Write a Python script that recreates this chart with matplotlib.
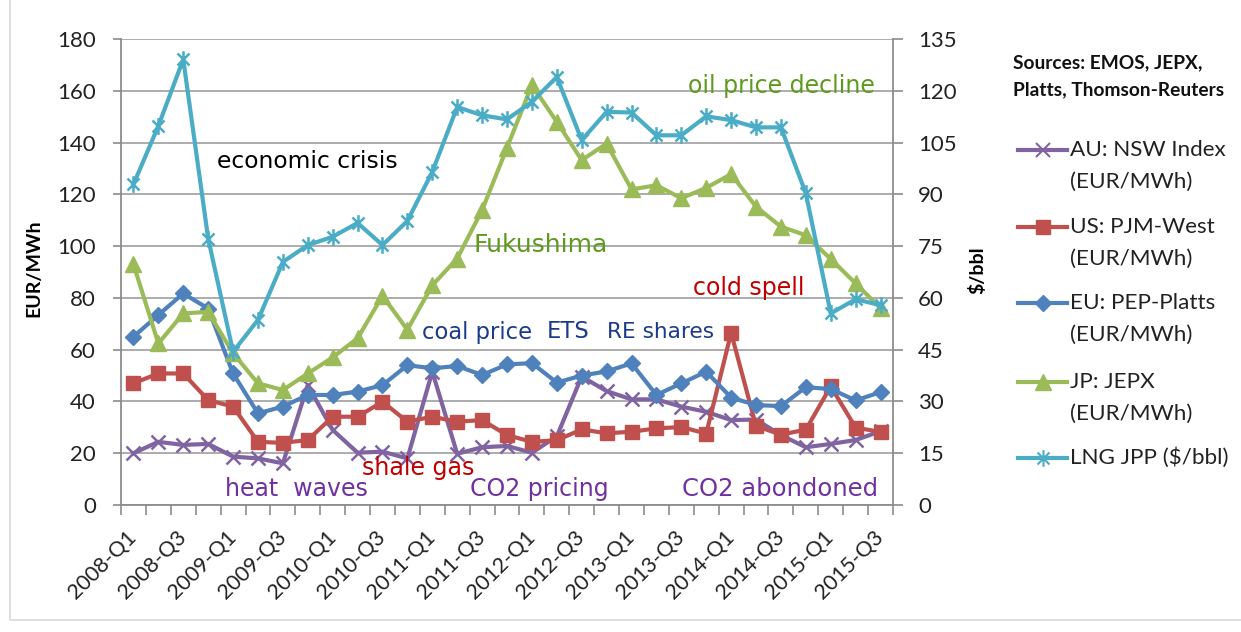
import numpy as np
import matplotlib
matplotlib.use("Agg")
import matplotlib.pyplot as plt
from matplotlib.path import Path
from matplotlib.lines import Line2D
from matplotlib.patches import Rectangle

# ---------------- data ----------------
quarters = ["2008-Q1", "2008-Q2", "2008-Q3", "2008-Q4",
            "2009-Q1", "2009-Q2", "2009-Q3", "2009-Q4",
            "2010-Q1", "2010-Q2", "2010-Q3", "2010-Q4",
            "2011-Q1", "2011-Q2", "2011-Q3", "2011-Q4",
            "2012-Q1", "2012-Q2", "2012-Q3", "2012-Q4",
            "2013-Q1", "2013-Q2", "2013-Q3", "2013-Q4",
            "2014-Q1", "2014-Q2", "2014-Q3", "2014-Q4",
            "2015-Q1", "2015-Q2", "2015-Q3"]

au_nsw = [20, 24.4, 23.2, 23.6, 18.7, 18, 16.1, 46.3, 29, 20.2, 20.6, 18,
          51.5, 19.8, 22.3, 22.8, 20.2, 26.5, 49.6, 44, 40.8, 40.8, 38, 36,
          32.8, 33, 27, 22.3, 23.6, 25.1, 28.5]
us_pjm = [47, 50.8, 50.8, 40.5, 38, 24.4, 24, 25.1, 34.1, 34.1, 39.9, 32.2,
          34.1, 32.2, 32.8, 27, 24.4, 25, 29.2, 27.7, 28.3, 29.6, 30.1, 27.6,
          66.5, 30.5, 27.2, 29.1, 45.8, 29.9, 28.2]
eu_pep = [65, 73.4, 81.7, 75.9, 50.8, 35.4, 38, 42.5, 42.5, 43.8, 46.3, 54,
          52.8, 53.7, 50.2, 54.3, 54.8, 47.3, 50, 51.6, 54.7, 42.5, 47, 51.5,
          41.5, 38.6, 38.2, 45.5, 44.8, 40.4, 43.6]
jp_jepx = [93, 62.4, 74, 74.6, 58.6, 47, 44.4, 50.8, 57, 64.4, 80.8, 67.7,
           84.9, 95.2, 113.9, 138, 162.2, 148, 133.2, 139.6, 121.9, 123.5, 118.5, 122.5,
           127.8, 115.2, 107.5, 104.2, 95, 85.6, 76]
lng_jpp = [92.9, 109.8, 129.1, 77.2, 44.4, 53.6, 70.4, 75.3, 77.7, 81.7, 75.3, 82.3,
           96.5, 115.3, 112.9, 111.7, 116.8, 124, 105.7, 113.9, 113.7, 107.1, 107.1, 112.6,
           111.5, 109.4, 109.4, 90.3, 55.5, 59.6, 57.9]

series_names = ["AU: NSW Index\n(EUR/MWh)", "US: PJM-West\n(EUR/MWh)",
                "EU: PEP-Platts\n(EUR/MWh)", "JP: JEPX\n(EUR/MWh)", "LNG JPP ($/bbl)"]

left_ticks = [0, 20, 40, 60, 80, 100, 120, 140, 160, 180]
right_ticks = [0, 15, 30, 45, 60, 75, 90, 105, 120, 135]

# ---------------- style ----------------
W, H = 1241, 632
C_AU, C_US, C_EU, C_JP, C_LNG = "#8064a2", "#c0504d", "#4f81bd", "#9bbb59", "#4bacc6"
GRID = "#a6a6a6"
AXC = "#8c8c8c"
TFONT = "Lato"
AFONT = "DejaVu Sans"

def px(x, y):
    return (x / W, 1 - y / H)

asterisk = Path([(-0.72, -0.72), (0.72, 0.72), (-0.72, 0.72), (0.72, -0.72), (0, -1), (0, 1)],
                [Path.MOVETO, Path.LINETO, Path.MOVETO, Path.LINETO, Path.MOVETO, Path.LINETO])

fig = plt.figure(figsize=(W / 100, H / 100), dpi=100)
fig.patch.set_facecolor("white")
fig.add_artist(Rectangle(px(10, 620), 1300 / W, 700 / H, transform=fig.transFigure,
                         fill=False, edgecolor="#d9d9d9", lw=1.2))

ax = fig.add_axes([121 / W, 1 - 505 / H, (893 - 121) / W, (505 - 39) / H])
ax2 = ax.twinx()

x = np.arange(len(quarters))
lw = 3.0
ax.plot(x, au_nsw, color=C_AU, lw=lw, marker="x", ms=10, mew=1.8, zorder=3)
ax.plot(x, us_pjm, color=C_US, lw=lw, marker="s", ms=10, zorder=4)
ax.plot(x, eu_pep, color=C_EU, lw=lw, marker="D", ms=8.5, zorder=5)
ax.plot(x, jp_jepx, color=C_JP, lw=lw, marker="^", ms=11, zorder=6)
ax2.plot(x, lng_jpp, color=C_LNG, lw=lw, marker=asterisk, ms=12, mew=1.8,
         mec=C_LNG, mfc="none", zorder=7)

ax.set_xlim(-0.5, len(quarters) - 0.5)
ax.set_ylim(0, 180)
ax2.set_ylim(0, 135)
ax.set_yticks(left_ticks)
ax2.set_yticks(right_ticks)
ax.yaxis.grid(True, color=GRID, lw=1.3)
ax.set_axisbelow(True)

for a in (ax, ax2):
    a.spines["top"].set_visible(False)
    for s in ("left", "right", "bottom"):
        a.spines[s].set_color(AXC)
        a.spines[s].set_linewidth(1.3)
ax.spines["right"].set_visible(False)
ax2.spines["left"].set_visible(False)
ax2.spines["bottom"].set_visible(False)

ax.set_xticks(x[::2])
ax.set_xticklabels(quarters[::2])
ax.set_xticks(np.arange(-0.5, len(quarters), 1), minor=True)
ax.tick_params(axis="x", which="major", length=0, pad=21, labelsize=15.5)
ax.tick_params(axis="x", which="minor", length=7, width=1.2, color=AXC)
for lab in ax.get_xticklabels():
    lab.set_rotation(45)
    lab.set_ha("right")
    lab.set_va("center")
    lab.set_rotation_mode("anchor")
    lab.set_fontfamily(TFONT)

ax.tick_params(axis="y", length=6, width=1.2, color=AXC, pad=12, labelsize=16)
ax2.tick_params(axis="y", length=7, width=1.2, color=AXC, pad=11, labelsize=16)
for lab in ax.get_yticklabels() + ax2.get_yticklabels():
    lab.set_fontfamily(TFONT)
    lab.set_color("#222222")
for lab in ax.get_xticklabels():
    lab.set_color("#222222")

fig.text(*px(34, 268), "EUR/MWh", rotation=90, ha="center", va="center",
         fontsize=14, fontweight="bold", family=TFONT)
fig.text(*px(977, 270), "$/bbl", rotation=90, ha="center", va="center",
         fontsize=14, fontweight="bold", family=TFONT)

# ---------------- annotations ----------------
notes = [
    ("economic crisis", 217, 167.5, "#000000", 16.8),
    ("oil price decline", 688, 93, "#5d9a1e", 17.1),
    ("Fukushima", 473, 252, "#5d9a1e", 18),
    ("cold spell", 693, 295, "#c00000", 17),
    ("coal price", 422, 338.5, "#1b3a8a", 16.3),
    ("ETS", 547, 338.5, "#1b3a8a", 16.3),
    ("RE shares", 607, 338.5, "#1b3a8a", 15.6),
    ("shale gas", 362, 475, "#c00000", 17.1),
    ("heat  waves", 225, 496.5, "#7030a0", 17),
    ("CO2 pricing", 470, 496, "#7030a0", 17),
    ("CO2 abondoned", 682, 496, "#7030a0", 17.5),
]
for t, tx, ty, c, s in notes:
    fig.text(*px(tx, ty), t, color=c, fontsize=s, family=AFONT, ha="left", va="baseline")

# ---------------- legend ----------------
fig.text(*px(1013, 63), "Sources: EMOS, JEPX,", fontsize=13.8, fontweight="bold",
         family=TFONT, ha="left", va="center", color="#111111")
fig.text(*px(1013, 90), "Platts, Thomson-Reuters", fontsize=13.8, fontweight="bold",
         family=TFONT, ha="left", va="center", color="#111111")

leg_y = [150, 227, 303, 382, 458]
leg_style = [
    dict(color=C_AU, marker="x", ms=10, mew=1.5),
    dict(color=C_US, marker="s", ms=10),
    dict(color=C_EU, marker="D", ms=8.5),
    dict(color=C_JP, marker="^", ms=11),
    dict(color=C_LNG, marker=asterisk, ms=12, mew=1.5, mec=C_LNG, mfc="none"),
]
for name, yy, st in zip(series_names, leg_y, leg_style):
    x0, y0 = px(1018, yy)
    x1, _ = px(1067, yy)
    fig.add_artist(Line2D([x0, x1], [y0, y0], transform=fig.transFigure, lw=lw,
                          color=st["color"]))
    kw = dict(st)
    fig.add_artist(Line2D([(x0 + x1) / 2], [y0], transform=fig.transFigure, lw=0, **kw))
    lines = name.split("\n")
    for k, ln in enumerate(lines):
        fig.text(*px(1070, yy + 32 * k), ln, fontsize=16.2, family=TFONT,
                 ha="left", va="center", color="#222222")

fig.savefig("out.png", dpi=100, facecolor="white")
